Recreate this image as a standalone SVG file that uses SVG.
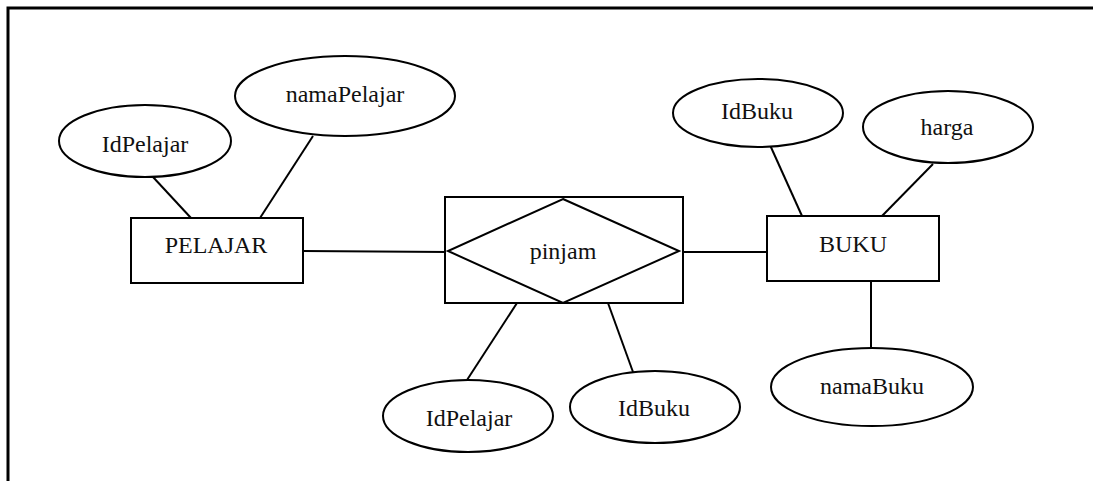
<svg xmlns="http://www.w3.org/2000/svg" width="1093" height="481" viewBox="0 0 1093 481">
<style>
.s{fill:#fff;stroke:#000;stroke-width:2}
.l{stroke:#000;stroke-width:2;fill:none}
text{font-family:"Liberation Serif","Times New Roman",serif;font-size:24px;fill:#111;text-anchor:middle}
</style>
<rect width="1093" height="481" fill="#fff"/>
<path d="M8,481 V8 H1093" fill="none" stroke="#000" stroke-width="3"/>
<g id="connectors">
<line class="l" x1="153" y1="177" x2="191" y2="218"/>
<line class="l" x1="313" y1="136" x2="260" y2="218"/>
<line class="l" x1="303" y1="251" x2="448" y2="252"/>
<line class="l" x1="679" y1="252" x2="767" y2="252"/>
<line class="l" x1="770" y1="145" x2="802" y2="216"/>
<line class="l" x1="933" y1="164" x2="882" y2="216"/>
<line class="l" x1="871" y1="281" x2="871" y2="349"/>
<line class="l" x1="517" y1="303" x2="467" y2="380"/>
<line class="l" x1="608" y1="303" x2="633" y2="372"/>
</g>
<g id="attr-idpelajar-top"><ellipse class="s" cx="145" cy="141" rx="86" ry="36"/><text x="145" y="152">IdPelajar</text></g>
<g id="attr-namapelajar"><ellipse class="s" cx="345" cy="96" rx="110" ry="40"/><text x="345" y="102">namaPelajar</text></g>
<g id="entity-pelajar"><rect class="s" x="131" y="218" width="172" height="65"/><text x="216" y="253">PELAJAR</text></g>
<g id="relation-pinjam"><rect class="s" x="445" y="197" width="238" height="106"/><polygon class="s" points="563,199 679,251 563,303 448,251"/><text x="563" y="259">pinjam</text></g>
<g id="entity-buku"><rect class="s" x="767" y="216" width="172" height="65"/><text x="853" y="252">BUKU</text></g>
<g id="attr-idbuku-top"><ellipse class="s" cx="758" cy="113" rx="85" ry="34"/><text x="757" y="119">IdBuku</text></g>
<g id="attr-harga"><ellipse class="s" cx="948" cy="127" rx="85" ry="36"/><text x="947" y="135">harga</text></g>
<g id="attr-namabuku"><ellipse class="s" cx="872" cy="387" rx="101" ry="39"/><text x="872" y="394">namaBuku</text></g>
<g id="attr-idpelajar-bottom"><ellipse class="s" cx="468" cy="416" rx="85" ry="36"/><text x="469" y="426">IdPelajar</text></g>
<g id="attr-idbuku-bottom"><ellipse class="s" cx="655" cy="407" rx="85" ry="36"/><text x="654" y="416">IdBuku</text></g>
</svg>
